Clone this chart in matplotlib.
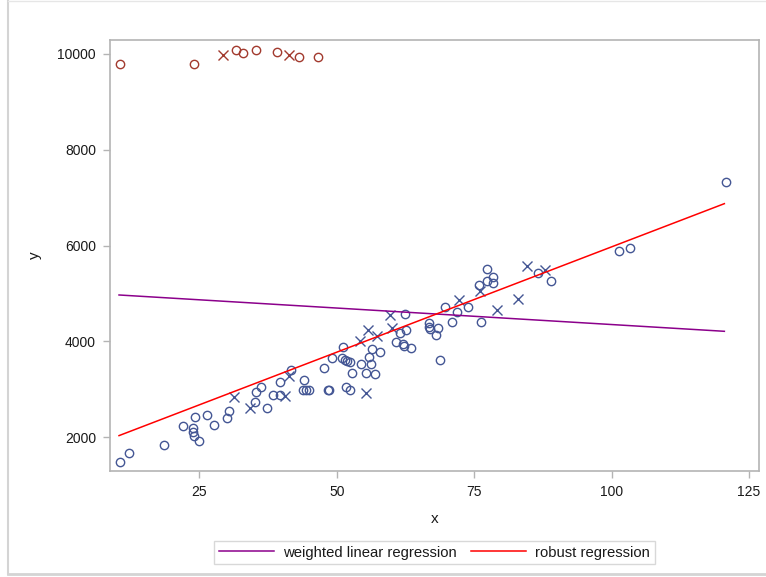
import numpy as np
import matplotlib
matplotlib.use("Agg")
import matplotlib.pyplot as plt
from matplotlib.lines import Line2D

plt.rcParams['font.family'] = ['Liberation Sans', 'DejaVu Sans']

# Observations retenues (cercles) et points exclus (croix)
x_in = [10.5, 12.2, 18.5, 22.0, 23.8, 23.8, 24.0, 24.9, 24.2, 26.4, 27.7, 30.0,
        30.4, 35.1, 35.3, 36.2, 37.3, 38.4, 39.7, 39.6, 44.0, 43.8, 44.4, 44.9,
        48.4, 48.6, 51.7, 52.4, 41.6, 47.6, 49.1, 51.1, 50.9, 51.5, 51.9, 52.4,
        52.8, 54.5, 55.9, 56.2, 55.4, 56.9, 56.5, 57.9, 61.5, 62.6, 62.4, 60.8,
        62.0, 62.3, 63.5, 66.8, 66.8, 67.0, 68.4, 68.0, 68.8, 69.6, 71.0, 71.8,
        73.9, 76.2, 75.9, 77.3, 77.4, 78.5, 78.5, 86.6, 88.9, 101.3, 103.4, 120.8]
y_in = [1478, 1678, 1833, 2235, 2187, 2117, 2033, 1929, 2430, 2459, 2256, 2409,
        2555, 2730, 2939, 3043, 2611, 2883, 2883, 3160, 3196, 2987, 2987, 2987,
        2987, 2987, 3056, 2987, 3404, 3440, 3661, 3878, 3648, 3613, 3598, 3577,
        3348, 3523, 3669, 3523, 3335, 3321, 3836, 3786, 4183, 4239, 4567, 3995,
        3947, 3912, 3857, 4392, 4308, 4260, 4275, 4135, 3613, 4726, 4413, 4621,
        4712, 4413, 5178, 5512, 5262, 5352, 5226, 5423, 5268, 5894, 5944, 7322]
x_ex = [31.4, 34.2, 40.6, 41.3, 55.4, 54.2, 55.6, 57.4, 59.6, 60.1, 72.2, 79.1,
        76.0, 82.9, 84.6, 87.9]
y_ex = [2834, 2617, 2868, 3279, 2918, 4016, 4239, 4114, 4552, 4275, 4865, 4657,
        5053, 4886, 5575, 5491]

# Valeurs aberrantes (en haut du graphique)
x_out = [10.5, 24.0, 31.6, 33.0, 35.3, 39.1, 43.2, 46.6]
y_out = [9785, 9785, 10090, 10027, 10083, 10035, 9944, 9944]
x_out_ex = [29.4, 41.3]
y_out_ex = [9979, 9985]

# Coefficients des deux droites (ordonnee, pente)
wls_coef = (5042, -6.885)
rob_coef = (1578, 43.97)
x_range = [10.4, 120.5]

blue = "#445694"
brick = "#A23A2E"
grey = "#B4B4B4"
text_col = "#1A1A1A"

fig = plt.figure(figsize=(7.66, 5.77), dpi=100)
ax = fig.add_axes([110 / 766, 1 - 470.7 / 577, 649 / 766, 430.7 / 577])

mk = dict(linestyle="none", markersize=6, markerfacecolor="none", markeredgewidth=1.0)
ax.plot(x_in, y_in, marker="o", color=blue, **mk)
ax.plot(x_ex, y_ex, marker="x", color=blue, **{**mk, "markersize": 7})
ax.plot(x_out, y_out, marker="o", color=brick, **mk)
ax.plot(x_out_ex, y_out_ex, marker="x", color=brick, **{**mk, "markersize": 7})

xs = np.array(x_range)
ax.plot(xs, wls_coef[0] + wls_coef[1] * xs, color="#8B008B", linewidth=1.1)
ax.plot(xs, rob_coef[0] + rob_coef[1] * xs, color="#FF0000", linewidth=1.1)

ax.set_xlim(8.76, 126.8)
ax.set_ylim(1303, 10292)
ax.set_xticks([25, 50, 75, 100, 125])
ax.set_yticks([2000, 4000, 6000, 8000, 10000])

for s in ax.spines.values():
    s.set_color(grey)
    s.set_linewidth(1.2)
ax.tick_params(colors=grey, labelcolor=text_col, labelsize=10, length=5, width=1, pad=5)

ax.set_xlabel("x", fontsize=11, color=text_col, labelpad=10)
ax.set_ylabel("y", fontsize=11, color=text_col, labelpad=11)

handles = [Line2D([], [], color="#8B008B", linewidth=1.1),
           Line2D([], [], color="#FF0000", linewidth=1.1)]
leg = fig.legend(handles, ["weighted linear regression", "robust regression"],
                 loc="center", bbox_to_anchor=(434.5 / 766, 1 - 552.5 / 577),
                 ncol=2, frameon=True, fancybox=False, fontsize=10.7,
                 handlelength=3.7, columnspacing=1.0, handletextpad=0.6,
                 borderpad=0.3, labelcolor=text_col)
leg.get_frame().set_edgecolor("#CFCFCF")
leg.get_frame().set_linewidth(1.0)

# Cadre exterieur gris clair
fig.add_artist(Line2D([7.5 / 766, 7.5 / 766], [1 - 574 / 577, 1 - 1 / 577],
                      transform=fig.transFigure, color="#D4D4D4", linewidth=1.5))
fig.add_artist(Line2D([7.5 / 766, 1], [1 - 574 / 577, 1 - 574 / 577],
                      transform=fig.transFigure, color="#D4D4D4", linewidth=2))
fig.add_artist(Line2D([7.5 / 766, 1], [1 - 1 / 577, 1 - 1 / 577],
                      transform=fig.transFigure, color="#E6E6E6", linewidth=1))

fig.savefig("out.png", dpi=100)
